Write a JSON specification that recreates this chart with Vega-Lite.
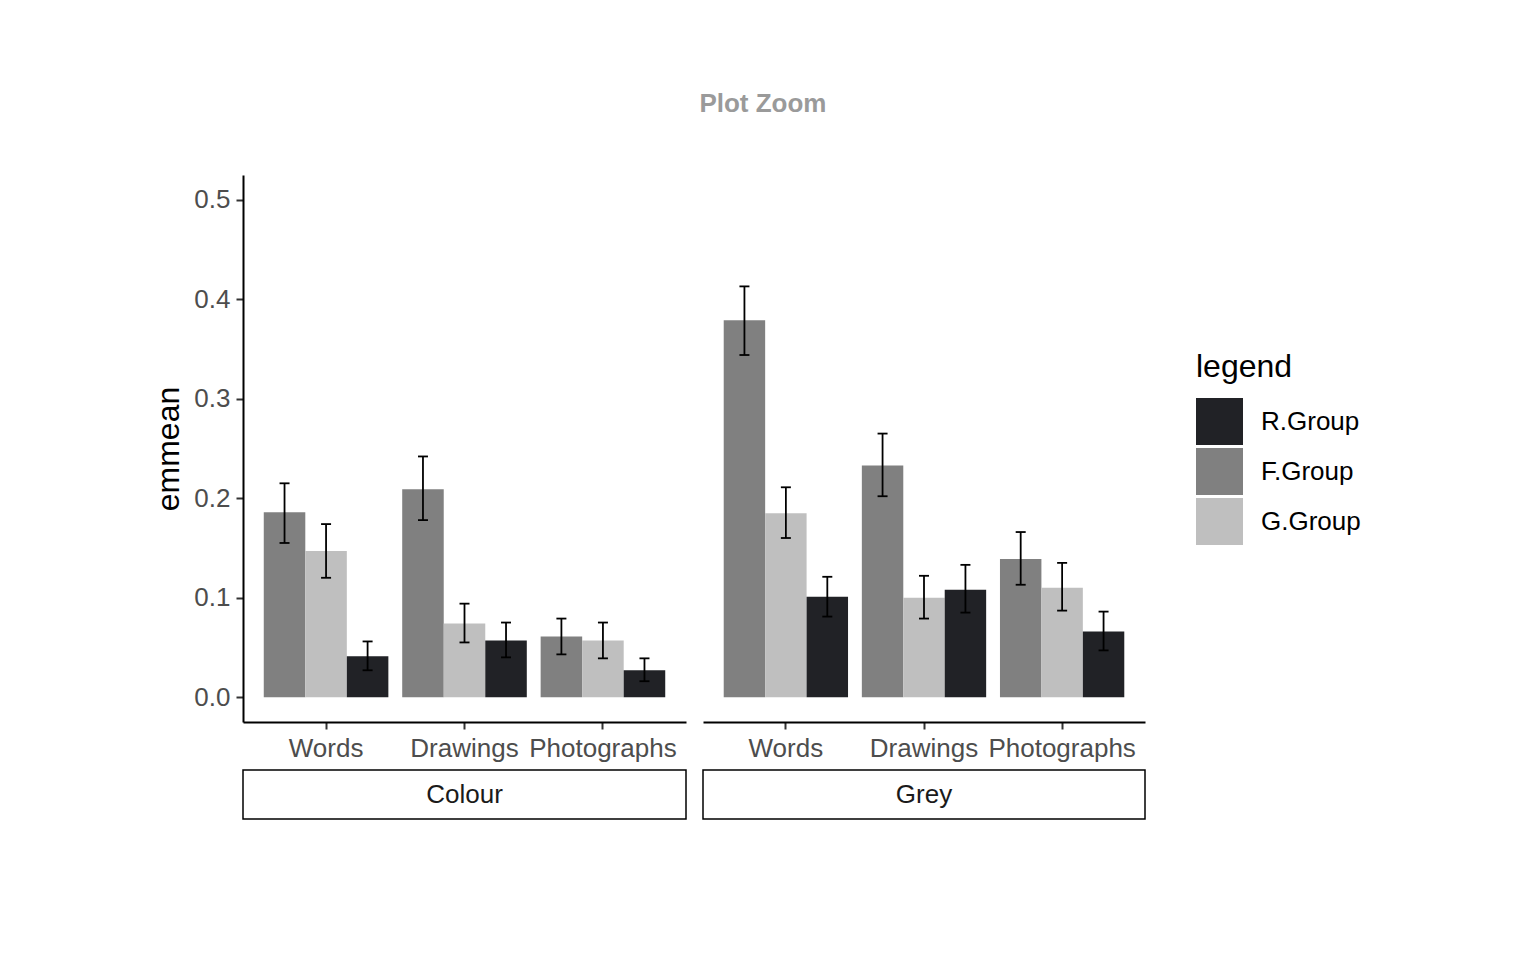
{
  "$schema": "https://vega.github.io/schema/vega-lite/v6.json",
  "background": "white",
  "padding": {"left": 152, "top": 91, "right": 20, "bottom": 20},
  "config": {
    "font": "Liberation Sans",
    "view": {"stroke": null},
    "axis": {
      "grid": false,
      "domainColor": "black",
      "domainWidth": 2,
      "tickColor": "#333333",
      "tickWidth": 2,
      "tickSize": 7,
      "labelColor": "#4d4d4d",
      "labelFontSize": 26,
      "labelFont": "Liberation Sans",
      "labelPadding": 6,
      "titleFont": "Liberation Sans",
      "titleFontSize": 32,
      "titleFontWeight": "normal",
      "titleColor": "black"
    }
  },
  "title": {
    "text": "Plot Zoom",
    "fontSize": 26,
    "fontWeight": "bold",
    "color": "#9a9a9a",
    "anchor": "middle",
    "dx": 6,
    "offset": 58
  },
  "datasets": {
    "emm": [
      {"panel": "Colour", "stimulus": "Words", "group": "F.Group", "emmean": 0.186, "lower": 0.155, "upper": 0.215},
      {"panel": "Colour", "stimulus": "Words", "group": "G.Group", "emmean": 0.147, "lower": 0.120, "upper": 0.174},
      {"panel": "Colour", "stimulus": "Words", "group": "R.Group", "emmean": 0.041, "lower": 0.027, "upper": 0.056},
      {"panel": "Colour", "stimulus": "Drawings", "group": "F.Group", "emmean": 0.209, "lower": 0.178, "upper": 0.242},
      {"panel": "Colour", "stimulus": "Drawings", "group": "G.Group", "emmean": 0.074, "lower": 0.055, "upper": 0.094},
      {"panel": "Colour", "stimulus": "Drawings", "group": "R.Group", "emmean": 0.057, "lower": 0.040, "upper": 0.075},
      {"panel": "Colour", "stimulus": "Photographs", "group": "F.Group", "emmean": 0.061, "lower": 0.043, "upper": 0.079},
      {"panel": "Colour", "stimulus": "Photographs", "group": "G.Group", "emmean": 0.057, "lower": 0.039, "upper": 0.075},
      {"panel": "Colour", "stimulus": "Photographs", "group": "R.Group", "emmean": 0.027, "lower": 0.016, "upper": 0.039},
      {"panel": "Grey", "stimulus": "Words", "group": "F.Group", "emmean": 0.379, "lower": 0.344, "upper": 0.413},
      {"panel": "Grey", "stimulus": "Words", "group": "G.Group", "emmean": 0.185, "lower": 0.160, "upper": 0.211},
      {"panel": "Grey", "stimulus": "Words", "group": "R.Group", "emmean": 0.101, "lower": 0.081, "upper": 0.121},
      {"panel": "Grey", "stimulus": "Drawings", "group": "F.Group", "emmean": 0.233, "lower": 0.202, "upper": 0.265},
      {"panel": "Grey", "stimulus": "Drawings", "group": "G.Group", "emmean": 0.100, "lower": 0.079, "upper": 0.122},
      {"panel": "Grey", "stimulus": "Drawings", "group": "R.Group", "emmean": 0.108, "lower": 0.085, "upper": 0.133},
      {"panel": "Grey", "stimulus": "Photographs", "group": "F.Group", "emmean": 0.139, "lower": 0.113, "upper": 0.166},
      {"panel": "Grey", "stimulus": "Photographs", "group": "G.Group", "emmean": 0.110, "lower": 0.087, "upper": 0.135},
      {"panel": "Grey", "stimulus": "Photographs", "group": "R.Group", "emmean": 0.066, "lower": 0.047, "upper": 0.086}
    ],
    "strips": [{"panel": "Colour"}, {"panel": "Grey"}]
  },
  "resolve": {"scale": {"xOffset": "independent", "x": "independent", "y": "independent"}},
  "spacing": 15,
  "hconcat": [
    {
      "bounds": "flush",
      "spacing": 48,
      "resolve": {"scale": {"xOffset": "independent"}},
      "vconcat": [
        {
          "width": 443,
          "height": 547,
          "data": {"name": "emm"},
          "transform": [{"filter": "datum.panel === 'Colour'"}],
          "encoding": {
            "x": {"field": "stimulus", "type": "nominal", "sort": ["Words", "Drawings", "Photographs"], "scale": {"paddingInner": 0.1, "paddingOuter": 0.15}, "axis": {"title": null, "labelAngle": 0}},
            "xOffset": {"field": "group", "type": "nominal", "scale": {"domain": ["F.Group", "G.Group", "R.Group"], "paddingInner": 0, "paddingOuter": 0}}
          },
          "layer": [
            {
              "mark": {"type": "bar", "opacity": 1},
              "encoding": {
                "y": {"field": "emmean", "type": "quantitative", "title": "emmean", "scale": {"domain": [-0.025, 0.525], "nice": false, "zero": false}, "axis": {"values": [0, 0.1, 0.2, 0.3, 0.4, 0.5], "format": ".1f", "titlePadding": 8}},
                "y2": {"datum": 0},
                "color": {
                  "field": "group", "type": "nominal",
                  "scale": {"domain": ["R.Group", "F.Group", "G.Group"], "range": ["#212226", "#808080", "#bfbfbf"]},
                  "legend": {
                    "title": "legend", "orient": "none", "legendX": 953, "legendY": 177,
                    "titleFontSize": 32, "titleFontWeight": "normal", "titleColor": "black", "titlePadding": 14,
                    "labelFontSize": 26, "labelColor": "black", "labelOffset": 18,
                    "symbolType": "square", "symbolSize": 2209, "symbolStrokeWidth": 0, "symbolOpacity": 1, "rowPadding": 3
                  }
                }
              }
            },
            {
              "mark": {"type": "rule", "color": "black", "strokeWidth": 1.8},
              "encoding": {"y": {"field": "lower", "type": "quantitative", "title": "emmean"}, "y2": {"field": "upper"}}
            },
            {
              "mark": {"type": "tick", "color": "black", "size": 10, "thickness": 1.8, "opacity": 1, "orient": "horizontal"},
              "encoding": {"y": {"field": "lower", "type": "quantitative", "title": "emmean"}}
            },
            {
              "mark": {"type": "tick", "color": "black", "size": 10, "thickness": 1.8, "opacity": 1, "orient": "horizontal"},
              "encoding": {"y": {"field": "upper", "type": "quantitative", "title": "emmean"}}
            }
          ]
        },
        {
          "width": 443,
          "height": 49,
          "view": {"stroke": "black", "strokeWidth": 1.5},
          "data": {"name": "strips"},
          "transform": [{"filter": "datum.panel === 'Colour'"}],
          "mark": {"type": "text", "fontSize": 26, "color": "#1a1a1a", "baseline": "middle", "align": "center"},
          "encoding": {"text": {"field": "panel", "type": "nominal"}}
        }
      ]
    },
    {
      "bounds": "flush",
      "spacing": 48,
      "resolve": {"scale": {"xOffset": "independent"}},
      "vconcat": [
        {
          "width": 442,
          "height": 547,
          "data": {"name": "emm"},
          "transform": [{"filter": "datum.panel === 'Grey'"}],
          "encoding": {
            "x": {"field": "stimulus", "type": "nominal", "sort": ["Words", "Drawings", "Photographs"], "scale": {"paddingInner": 0.1, "paddingOuter": 0.15}, "axis": {"title": null, "labelAngle": 0}},
            "xOffset": {"field": "group", "type": "nominal", "scale": {"domain": ["F.Group", "G.Group", "R.Group"], "paddingInner": 0, "paddingOuter": 0}}
          },
          "layer": [
            {
              "mark": {"type": "bar", "opacity": 1},
              "encoding": {
                "y": {"field": "emmean", "type": "quantitative", "scale": {"domain": [-0.025, 0.525], "nice": false, "zero": false}, "axis": null},
                "y2": {"datum": 0},
                "color": {"field": "group", "type": "nominal", "scale": {"domain": ["R.Group", "F.Group", "G.Group"], "range": ["#212226", "#808080", "#bfbfbf"]}}
              }
            },
            {
              "mark": {"type": "rule", "color": "black", "strokeWidth": 1.8},
              "encoding": {"y": {"field": "lower", "type": "quantitative", "axis": null}, "y2": {"field": "upper"}}
            },
            {
              "mark": {"type": "tick", "color": "black", "size": 10, "thickness": 1.8, "opacity": 1, "orient": "horizontal"},
              "encoding": {"y": {"field": "lower", "type": "quantitative", "axis": null}}
            },
            {
              "mark": {"type": "tick", "color": "black", "size": 10, "thickness": 1.8, "opacity": 1, "orient": "horizontal"},
              "encoding": {"y": {"field": "upper", "type": "quantitative", "axis": null}}
            }
          ]
        },
        {
          "width": 442,
          "height": 49,
          "view": {"stroke": "black", "strokeWidth": 1.5},
          "data": {"name": "strips"},
          "transform": [{"filter": "datum.panel === 'Grey'"}],
          "mark": {"type": "text", "fontSize": 26, "color": "#1a1a1a", "baseline": "middle", "align": "center"},
          "encoding": {"text": {"field": "panel", "type": "nominal"}}
        }
      ]
    }
  ]
}
